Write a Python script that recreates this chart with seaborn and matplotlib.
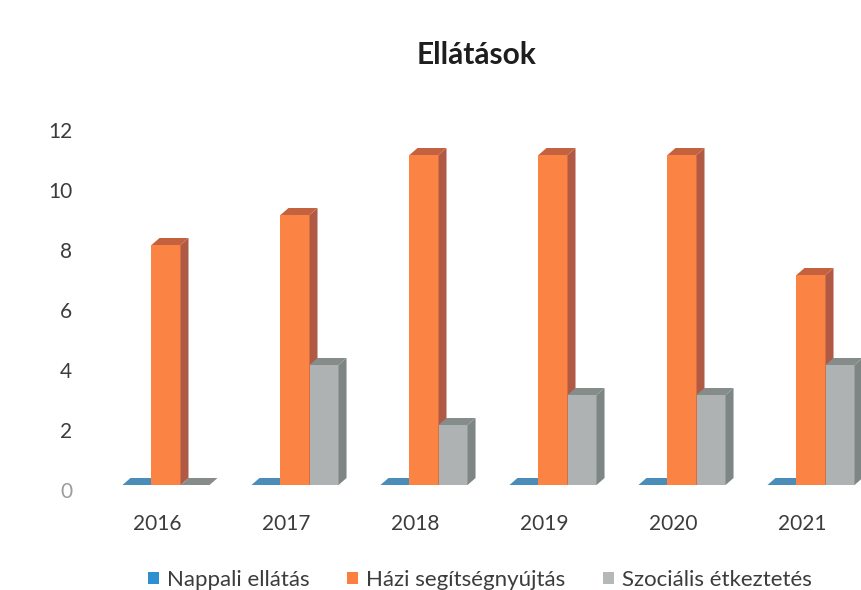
import matplotlib
matplotlib.use("Agg")
import matplotlib.pyplot as plt
from matplotlib.patches import Polygon, Patch
from matplotlib.transforms import ScaledTranslation
import seaborn as sns
import pandas as pd
import numpy as np

years = ["2016", "2017", "2018", "2019", "2020", "2021"]
nappali = [0, 0, 0, 0, 0, 0]
hazi = [8, 9, 11, 11, 11, 7]
szocialis = [0, 4, 2, 3, 3, 4]
series_names = ["Nappali ellátás", "Házi segítségnyújtás", "Szociális étkeztetés"]
y_ticks = [0, 2, 4, 6, 8, 10, 12]

front_colors = ["#3f8fc4", "#fb8344", "#aeb2b3"]
side_colors = ["#3f7fa8", "#b05a45", "#7d8685"]
top_colors = ["#4b8db8", "#c4623f", "#868c8a"]
legend_colors = ["#2e8fd0", "#fb7f3f", "#b4b8b8"]

sns.set_theme(style="white")
plt.rcParams['font.family'] = ['Lato', 'DejaVu Sans']

df = pd.DataFrame({
    "year": years * 3,
    "series": np.repeat(series_names, len(years)),
    "value": nappali + hazi + szocialis,
})

W, H = 862, 590
fig = plt.figure(figsize=(W / 100, H / 100), dpi=100, facecolor="white")
# axes run past the right edge, the source picture is cropped there
ax = fig.add_axes([101.5 / W, (H - 485) / H, 774 / W, 375 / H])
sns.barplot(data=df, x="year", y="value", hue="series", hue_order=series_names,
            palette=front_colors, width=0.675, saturation=1, linewidth=0, ax=ax)
ax.set_xlim(-0.5, 5.5)
ax.set_ylim(0, 12.5)

# fake 3d look: every bar gets a side and a top face
depth_x = 8 / 129
depth_y = 7 / 30
for s, container in enumerate(ax.containers):
    for bar in container:
        bar.set_zorder(3 + s)
        x0, x1 = bar.get_x(), bar.get_x() + bar.get_width()
        h = bar.get_height()
        ax.add_patch(Polygon([(x1, 0), (x1 + depth_x, depth_y), (x1 + depth_x, h + depth_y), (x1, h)],
                             facecolor=side_colors[s], edgecolor="none", zorder=3 + s, clip_on=False))
        ax.add_patch(Polygon([(x0, h), (x0 + depth_x, h + depth_y), (x1 + depth_x, h + depth_y), (x1, h)],
                             facecolor=top_colors[s], edgecolor="none", zorder=3 + s, clip_on=False))

sns.despine(ax=ax, left=True, bottom=True)
ax.set_xlabel("")
ax.set_ylabel("")
ax.set_xticks(np.arange(len(years)) - 0.07, years)
ax.set_yticks(y_ticks)
ax.tick_params(axis="x", length=0, pad=21, labelsize=15, labelcolor="#3c3c3c")
ax.tick_params(axis="y", length=0, pad=21, labelsize=15, labelcolor="#3c3c3c")
shift = ScaledTranslation(0, -5 / 100, fig.dpi_scale_trans)
for label in ax.get_yticklabels():
    label.set_transform(label.get_transform() + shift)
ax.get_yticklabels()[0].set_color("#9c9c9c")

ax.get_legend().remove()
handles = [Patch(facecolor=c, edgecolor="none") for c in legend_colors]
fig.legend(handles, series_names, loc="center", bbox_to_anchor=(480 / W, (H - 580) / H), ncol=3,
           frameon=False, fontsize=16, labelcolor="#3c3c3c", handlelength=0.5, handleheight=0.5,
           handletextpad=0.35, columnspacing=1.7)

fig.text(477 / W, (H - 55) / H, "Ellátások", ha="center", va="center",
         fontsize=21.5, fontweight="bold", color="#1e1e1e")

fig.savefig("out.png", dpi=100, facecolor="white")
